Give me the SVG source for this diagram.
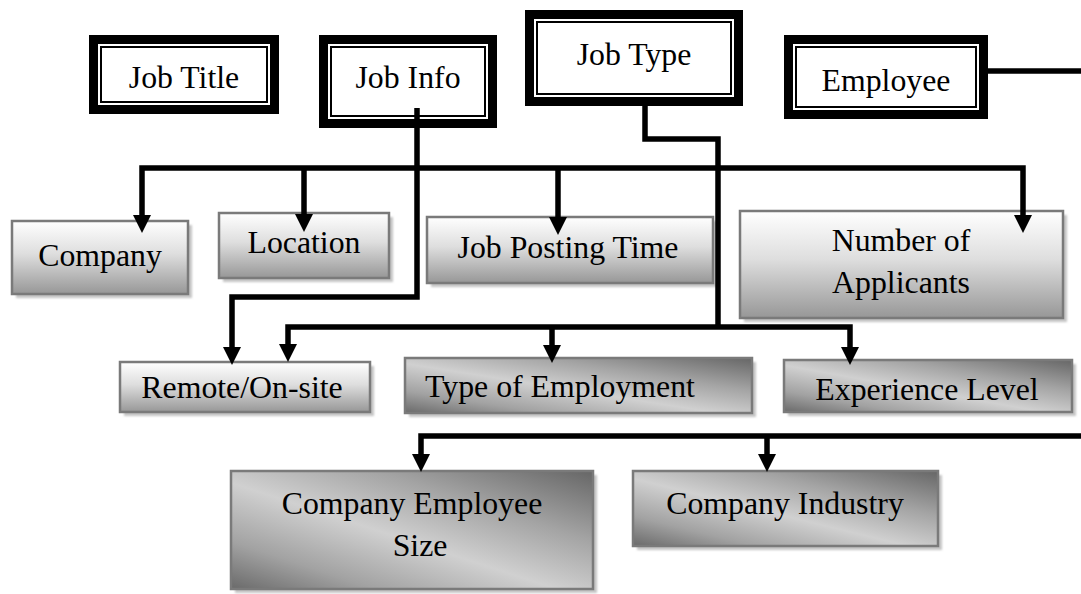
<svg xmlns="http://www.w3.org/2000/svg" width="1081" height="594" viewBox="0 0 1081 594">
  <defs>
    <!-- light boxes: white at top fading to grey at the bottom -->
    <linearGradient id="gLight" x1="0" y1="0" x2="0" y2="1">
      <stop offset="0" stop-color="#ffffff"/>
      <stop offset="0.45" stop-color="#dedede"/>
      <stop offset="1" stop-color="#979797"/>
    </linearGradient>
    <!-- dark boxes: diagonal reflected grey gradient -->
    <linearGradient id="gDark" x1="1" y1="0" x2="0" y2="1">
      <stop offset="0" stop-color="#666666"/>
      <stop offset="0.3" stop-color="#a4a4a4"/>
      <stop offset="0.55" stop-color="#d0d0d0"/>
      <stop offset="0.8" stop-color="#a2a2a2"/>
      <stop offset="1" stop-color="#6a6a6a"/>
    </linearGradient>
    <filter id="soft" x="-5%" y="-5%" width="110%" height="110%">
      <feGaussianBlur stdDeviation="1"/>
    </filter>
    <marker id="arrow" viewBox="0 0 18 18" refX="4" refY="9" markerWidth="18" markerHeight="18" markerUnits="userSpaceOnUse" orient="auto-start-reverse">
      <path d="M0,0 L18,9 L0,18 z" fill="#000"/>
    </marker>
  </defs>
  <style>
    .label { font-family: "Liberation Serif", "Times New Roman", serif; font-size: 31.8px; fill: #000; text-anchor: middle; }
    .outer { fill: #fff; stroke: #000; stroke-width: 9; }
    .inner { fill: none; stroke: #000; stroke-width: 2; }
    .shadow { fill: #c4c4c4; filter: url(#soft); }
    .light { fill: url(#gLight); stroke: #7a7a7a; stroke-width: 2.5; }
    .dark { fill: url(#gDark); stroke: #7a7a7a; stroke-width: 2.5; }
    .wire { fill: none; stroke: #000; stroke-width: 5.5; stroke-linejoin: miter; }
  </style>

  <rect width="1081" height="594" fill="#fff"/>

  <!-- entity boxes with double border -->
  <g id="job-title">
    <rect class="outer" x="93.5" y="39.5" width="181" height="70"/>
    <rect class="inner" x="101" y="47" width="166" height="55"/>
    <text class="label" x="184" y="88">Job Title</text>
  </g>
  <g id="job-info">
    <rect class="outer" x="323.5" y="39.5" width="169" height="84"/>
    <rect class="inner" x="331" y="47" width="154" height="69"/>
    <text class="label" x="408" y="88">Job Info</text>
  </g>
  <g id="job-type">
    <rect class="outer" x="529.5" y="14.5" width="209" height="87"/>
    <rect class="inner" x="537" y="22" width="194" height="72"/>
    <text class="label" x="634" y="65">Job Type</text>
  </g>
  <g id="employee">
    <rect class="outer" x="788.5" y="39.5" width="195" height="75"/>
    <rect class="inner" x="796" y="47" width="180" height="60"/>
    <text class="label" x="886" y="91">Employee</text>
  </g>

  <!-- attribute boxes -->
  <g id="company">
    <rect class="shadow" x="16" y="225" width="176" height="73"/>
    <rect class="light" x="12" y="221" width="176" height="73"/>
    <text class="label" x="100" y="266">Company</text>
  </g>
  <g id="location">
    <rect class="shadow" x="223" y="217" width="170" height="65"/>
    <rect class="light" x="219" y="213" width="170" height="65"/>
    <text class="label" x="304" y="253">Location</text>
  </g>
  <g id="job-posting-time">
    <rect class="shadow" x="431" y="221" width="286" height="66"/>
    <rect class="light" x="427" y="217" width="286" height="66"/>
    <text class="label" x="568" y="258">Job Posting Time</text>
  </g>
  <g id="number-of-applicants">
    <rect class="shadow" x="744" y="215" width="323" height="107"/>
    <rect class="light" x="740" y="211" width="323" height="107"/>
    <text class="label" x="901" y="251">Number of</text>
    <text class="label" x="901" y="293">Applicants</text>
  </g>
  <g id="remote-on-site">
    <rect class="shadow" x="124" y="366" width="250" height="50"/>
    <rect class="light" x="120" y="362" width="250" height="50"/>
    <text class="label" x="242" y="398">Remote/On-site</text>
  </g>
  <g id="type-of-employment">
    <rect class="shadow" x="409" y="362" width="347" height="55"/>
    <rect class="dark" x="405" y="358" width="347" height="55"/>
    <text class="label" x="560" y="397">Type of Employment</text>
  </g>
  <g id="experience-level">
    <rect class="shadow" x="788" y="364" width="288" height="52"/>
    <rect class="dark" x="784" y="360" width="288" height="52"/>
    <text class="label" x="927" y="400">Experience Level</text>
  </g>
  <g id="company-employee-size">
    <rect class="shadow" x="235" y="475" width="362" height="118"/>
    <rect class="dark" x="231" y="471" width="362" height="118"/>
    <text class="label" x="412" y="514">Company Employee</text>
    <text class="label" x="420" y="556">Size</text>
  </g>
  <g id="company-industry">
    <rect class="shadow" x="637" y="475" width="305" height="75"/>
    <rect class="dark" x="633" y="471" width="305" height="75"/>
    <text class="label" x="785" y="514">Company Industry</text>
  </g>

  <!-- connectors -->
  <g id="connectors">
    <path class="wire" d="M988,71 H1081" stroke-width="4.5"/>
    <!-- job info branch -->
    <path class="wire" d="M417,108 V297 H232 V351" marker-end="url(#arrow)"/>
    <path class="wire" d="M142,219 V168 H1023 V219" marker-start="url(#arrow)" marker-end="url(#arrow)"/>
    <path class="wire" d="M304,168 V218" marker-end="url(#arrow)"/>
    <path class="wire" d="M558,168 V221" marker-end="url(#arrow)"/>
    <!-- job type branch -->
    <path class="wire" d="M645,104 V139 H718 V327"/>
    <path class="wire" d="M288,348 V327 H850 V351" marker-start="url(#arrow)" marker-end="url(#arrow)"/>
    <path class="wire" d="M552,327 V349" marker-end="url(#arrow)"/>
    <!-- employee branch -->
    <path class="wire" d="M421,458 V436 H1081" marker-start="url(#arrow)"/>
    <path class="wire" d="M767,436 V458" marker-end="url(#arrow)"/>
  </g>
</svg>
